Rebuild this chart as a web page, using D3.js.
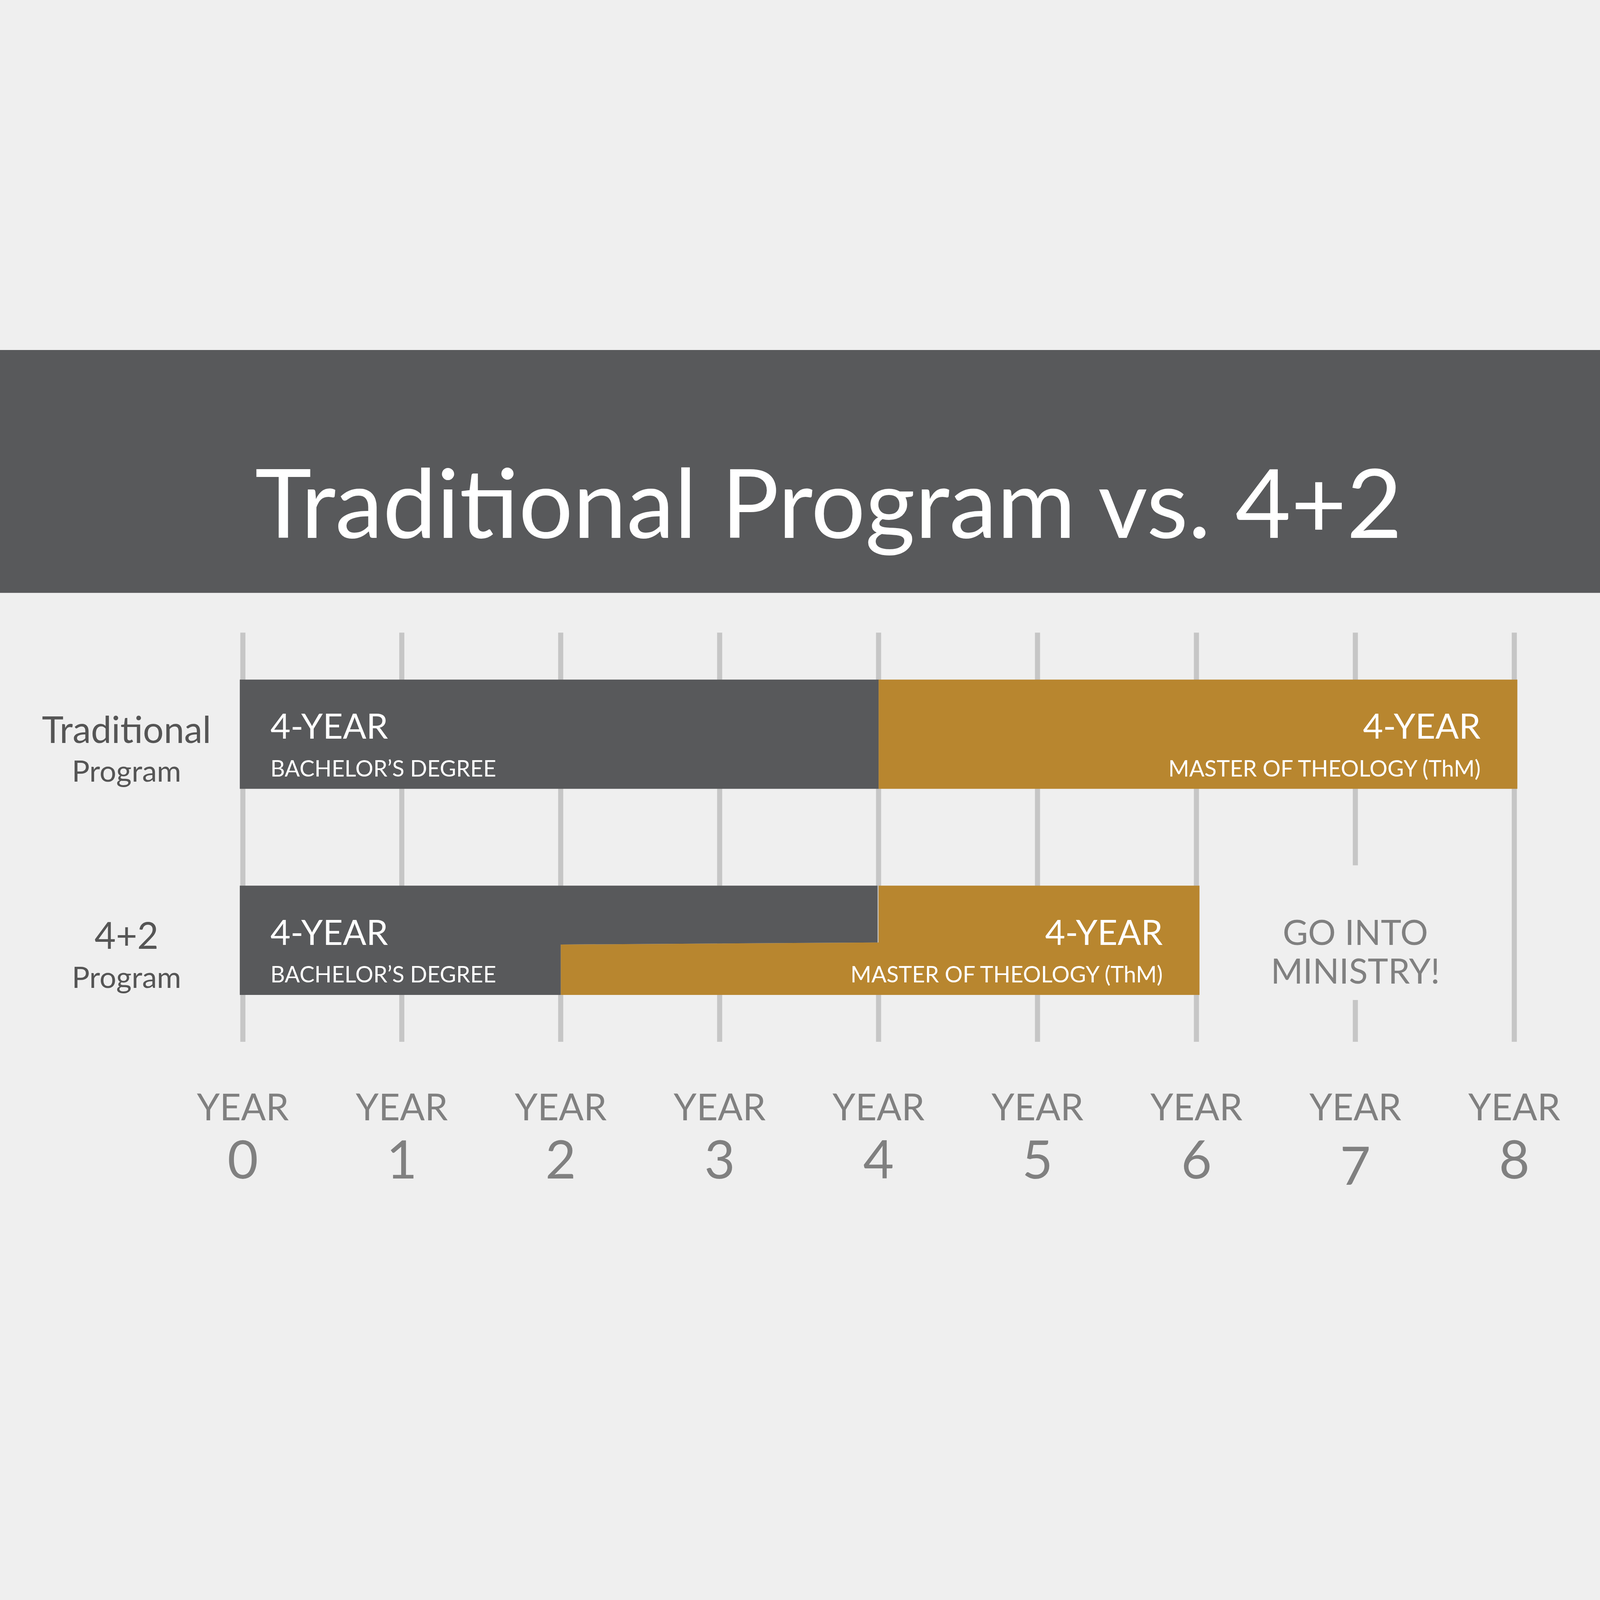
<!DOCTYPE html>
<html><head><meta charset="utf-8">
<script src="https://cdn.jsdelivr.net/npm/d3@7"></script>
<style>html,body{margin:0;padding:0;overflow:hidden;background:#efefef}svg{display:block;width:100vw;height:100vh}</style>
</head><body>
<script>
/* Datos */
const years = [0, 1, 2, 3, 4, 5, 6, 7, 8];
const rows = ["Traditional", "4+2"];
const rowLabels = [["Traditional", "Program"], ["4+2", "Program"]];
// [fila, inicio, fin]
const bachelor = [["Traditional", 0, 4], ["4+2", 0, 4]];
const master = [["Traditional", 4, 8], ["4+2", 2, 6]];
const ministry = ["GO INTO", "MINISTRY!"];

const DARK = "#58595b", GOLD = "#b8862f", GRID = "#c6c6c6", GREY = "#808080";
const FONT = "Lato, 'Open Sans', sans-serif";

const svg = d3.select("body").append("svg")
	.attr("viewBox", "0 0 1568 882")
	.attr("preserveAspectRatio", "xMidYMid meet");

svg.append("rect").attr("width", 1568).attr("height", 882).attr("fill", "#efefef");
svg.append("rect").attr("width", 1568).attr("height", 238).attr("fill", DARK);
svg.append("text").attr("x", 812).attr("y", 184).attr("text-anchor", "middle")
	.attr("fill", "#fff").attr("font-family", FONT).attr("font-size", 94)
	.text("Traditional Program vs. 4+2");

const x = d3.scaleLinear().domain([0, 8]).range([238, 1484]);
const y = d3.scaleBand().domain(rows).range([323, 632]).paddingInner(0.47);

// Líneas de la grilla (año 7 cortado por el texto)
svg.append("g").selectAll("line").data(years).join("line")
	.attr("x1", d => x(d)).attr("x2", d => x(d))
	.attr("y1", 277).attr("y2", d => d === 7 ? 505 : 678)
	.attr("stroke", GRID).attr("stroke-width", 5);
svg.append("line").attr("x1", x(7)).attr("x2", x(7)).attr("y1", 637).attr("y2", 678)
	.attr("stroke", GRID).attr("stroke-width", 5);

const bh = y.bandwidth();
const ext = d => (d === 0 ? -3 : d === 8 ? 3 : 0);

// Maestría (detrás)
master.forEach(([r, a, b]) => {
	const y0 = y(r);
	if (r === "Traditional") {
		svg.append("rect").attr("x", x(a)).attr("y", y0)
			.attr("width", x(b) + ext(b) - x(a)).attr("height", bh).attr("fill", GOLD);
	} else {
		const yb = y0 + bh * 0.52;
		const pts = [[x(4), y0], [x(b) + 3, y0], [x(b) + 3, y0 + bh], [x(a), y0 + bh], [x(a), yb + 2], [x(4), yb]];
		svg.append("path").attr("d", d3.line()(pts) + "Z").attr("fill", GOLD);
	}
});
// Bachillerato
bachelor.forEach(([r, a, b]) => {
	const y0 = y(r);
	if (r === "Traditional") {
		svg.append("rect").attr("x", x(a) - 3).attr("y", y0)
			.attr("width", x(b) - x(a) + 3).attr("height", bh).attr("fill", DARK);
	} else {
		const yb = y0 + bh * 0.52;
		const pts = [[x(a) - 3, y0], [x(b) - 1, y0], [x(b) - 1, yb], [x(2), yb + 2], [x(2), y0 + bh], [x(a) - 3, y0 + bh]];
		svg.append("path").attr("d", d3.line()(pts) + "Z").attr("fill", DARK);
	}
});

function barText(xp, y0, anchor, sub) {
	svg.append("text").attr("x", xp).attr("y", y0 + 58).attr("text-anchor", anchor)
		.attr("fill", "#fff").attr("font-family", FONT).attr("font-size", 34).text("4-YEAR");
	svg.append("text").attr("x", xp).attr("y", y0 + 95).attr("text-anchor", anchor)
		.attr("fill", "#fff").attr("font-family", FONT).attr("font-size", 22).text(sub);
}
bachelor.forEach(([r, a]) => barText(x(a) + 27, y(r), "start", "BACHELOR\u2019S DEGREE"));
master.forEach(([r, a, b]) => barText(x(b) - 33, y(r), "end", "MASTER OF THEOLOGY (ThM)"));

// Etiquetas de filas
rows.forEach((r, i) => {
	svg.append("text").attr("x", 124).attr("y", y(r) + 62).attr("text-anchor", "middle")
		.attr("fill", "#555").attr("font-family", FONT).attr("font-size", 36).text(rowLabels[i][0]);
	svg.append("text").attr("x", 124).attr("y", y(r) + 100).attr("text-anchor", "middle")
		.attr("fill", "#555").attr("font-family", FONT).attr("font-size", 29).text(rowLabels[i][1]);
});

ministry.forEach((t, i) => svg.append("text").attr("x", x(7)).attr("y", y("4+2") + 58 + i * 38)
	.attr("text-anchor", "middle").attr("fill", GREY).attr("font-family", FONT)
	.attr("font-size", 34).text(t));

// Etiquetas de años
const gx = svg.append("g").selectAll("g").data(years).join("g");
gx.append("text").attr("x", d => x(d)).attr("y", 755).attr("text-anchor", "middle")
	.attr("fill", GREY).attr("font-family", FONT).attr("font-size", 36).text("YEAR");
gx.append("text").attr("x", d => x(d)).attr("y", d => d === 7 ? 818 : 812).attr("text-anchor", "middle")
	.attr("fill", GREY).attr("font-family", FONT).attr("font-size", 52).text(d => d);
</script>
</body></html>
